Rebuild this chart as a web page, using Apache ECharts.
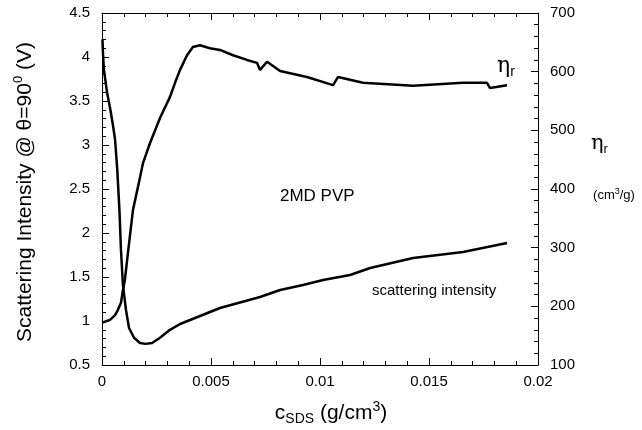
<!DOCTYPE html>
<html><head><meta charset="utf-8">
<script src="https://cdn.jsdelivr.net/npm/echarts@6/dist/echarts.min.js"></script>
<style>html,body{margin:0;padding:0;background:#fff}#c{width:642px;height:430px}</style>
</head><body><div id="c"></div>
<script>
// Scattering intensity (left axis, V)
const scatX = [0.00002,0.00005,0.00009,0.00023,0.00037,0.0005,0.0006,0.0007,0.0008,0.00087,0.00096,0.0011,0.00124,0.00147,0.00174,0.002,0.0023,0.00266,0.00312,0.00358,0.00404,0.00541,0.00725,0.00817,0.00922,0.01014,0.01138,0.0123,0.01427,0.01656,0.01858];
const scatY = [4.20,4.02,3.85,3.60,3.42,3.23,3.06,2.72,2.26,1.81,1.41,1.125,0.92,0.81,0.75,0.74,0.75,0.81,0.90,0.966,1.011,1.148,1.273,1.352,1.409,1.466,1.523,1.602,1.716,1.784,1.886];
// Reduced viscosity eta_r (right axis, cm3/g)
const etaX = [0,0.00037,0.0006,0.00073,0.00087,0.00096,0.00105,0.00119,0.00142,0.00174,0.00188,0.0022,0.00266,0.00312,0.00335,0.00358,0.0039,0.00417,0.0045,0.00495,0.00541,0.00601,0.00665,0.00711,0.00725,0.00757,0.00817,0.0094,0.0106,0.01083,0.01197,0.01427,0.01656,0.01766,0.0178,0.01858];
const etaY = [172,177,185,194,206,228,245,291,364,419,444,478,521,557,581,603,628,642,645,640,637,628,620,615,603,617,601,591,577,591,581,576,581,581,572,577];
const xTicks = ['0','0.005','0.01','0.015','0.02'];

const chart = echarts.init(document.getElementById('c'), null, {renderer:'canvas'});
const F = 'Liberation Sans, Arial, sans-serif';
const lab = {color:'#000', fontFamily:F, fontSize:15};
const tickStyle = {color:'#000', width:1};
const xAxisCommon = {
  type:'value', min:0, max:0.02, interval:0.005,
  axisLine:{show:true, onZero:false, lineStyle:{color:'#000', width:1}},
  axisTick:{show:true, inside:true, length:7, lineStyle:tickStyle},
  minorTick:{show:true, splitNumber:5, length:4, lineStyle:tickStyle},
  splitLine:{show:false}, minorSplitLine:{show:false}
};
const yAxisCommon = {
  type:'value',
  axisLine:{show:true, onZero:false, lineStyle:{color:'#000', width:1}},
  axisTick:{show:true, inside:true, length:7, lineStyle:tickStyle},
  minorTick:{show:true, splitNumber:5, length:4, lineStyle:tickStyle},
  splitLine:{show:false}, minorSplitLine:{show:false}
};
chart.setOption({
  animation:false,
  grid:{left:102, right:104, top:13, bottom:65},
  xAxis:[
    Object.assign({}, xAxisCommon, {position:'bottom',
      axisLabel:Object.assign({}, lab, {margin:9, formatter:(v)=>xTicks[Math.round(v/0.005)]})}),
    Object.assign({}, xAxisCommon, {position:'top', axisLabel:{show:false}})
  ],
  yAxis:[
    Object.assign({}, yAxisCommon, {min:0.5, max:4.5, interval:0.5, position:'left',
      axisLabel:Object.assign({}, lab, {margin:12, inside:false})}),
    Object.assign({}, yAxisCommon, {min:100, max:700, interval:100, position:'right',
      axisLabel:Object.assign({}, lab, {margin:12, inside:false})})
  ],
  series:[
    {type:'line', xAxisIndex:0, yAxisIndex:0, showSymbol:false, symbol:'none',
     data:scatX.map((x,i)=>[x,scatY[i]]), lineStyle:{color:'#000', width:2.5}},
    {type:'line', xAxisIndex:0, yAxisIndex:1, showSymbol:false, symbol:'none',
     data:etaX.map((x,i)=>[x,etaY[i]]), lineStyle:{color:'#000', width:2.5}}
  ],
  graphic:[
    {type:'text', x:25, y:192, rotation:Math.PI/2,
     style:{text:'{a|Scattering Intensity @ θ=90}{s|0}{a| (V)}', align:'center', verticalAlign:'middle',
       rich:{a:{fontSize:21, fontFamily:F, fill:'#000', lineHeight:26}, s:{fontSize:13, fontFamily:F, fill:'#000', verticalAlign:'top', lineHeight:14}}}},
    {type:'text', x:331, y:413,
     style:{text:'{a|c}{b|SDS}{a| (g/cm}{s|3}{a|)}', align:'center', verticalAlign:'middle',
       rich:{a:{fontSize:21, fontFamily:F, fill:'#000', lineHeight:26}, b:{fontSize:14, fontFamily:F, fill:'#000', verticalAlign:'bottom', lineHeight:12}, s:{fontSize:14, fontFamily:F, fill:'#000', verticalAlign:'top', lineHeight:14}}}},
    {type:'text', x:280, y:196,
     style:{text:'2MD PVP', fontSize:17, fontFamily:F, fill:'#000', align:'left', verticalAlign:'middle'}},
    {type:'text', x:372, y:291,
     style:{text:'scattering intensity', fontSize:15, fontFamily:F, fill:'#000', align:'left', verticalAlign:'middle'}},
    {type:'text', x:497, y:66,
     style:{text:'{e|η}{r|r}', align:'left', verticalAlign:'middle',
       rich:{e:{fontSize:22, fontFamily:'DejaVu Serif, serif', fill:'#000', lineHeight:26}, r:{fontSize:14, fontFamily:F, fill:'#000', verticalAlign:'bottom', lineHeight:14}}}},
    {type:'text', x:591, y:144,
     style:{text:'{e|η}{r|r}', align:'left', verticalAlign:'middle',
       rich:{e:{fontSize:21, fontFamily:'DejaVu Serif, serif', fill:'#000', lineHeight:24}, r:{fontSize:13, fontFamily:F, fill:'#000', verticalAlign:'bottom', lineHeight:13}}}},
    {type:'text', x:614, y:195,
     style:{text:'{a|(cm}{s|3}{a|/g)}', align:'center', verticalAlign:'middle',
       rich:{a:{fontSize:13, fontFamily:F, fill:'#000', lineHeight:16}, s:{fontSize:9, fontFamily:F, fill:'#000', verticalAlign:'top', lineHeight:9}}}}
  ]
});
</script></body></html>
